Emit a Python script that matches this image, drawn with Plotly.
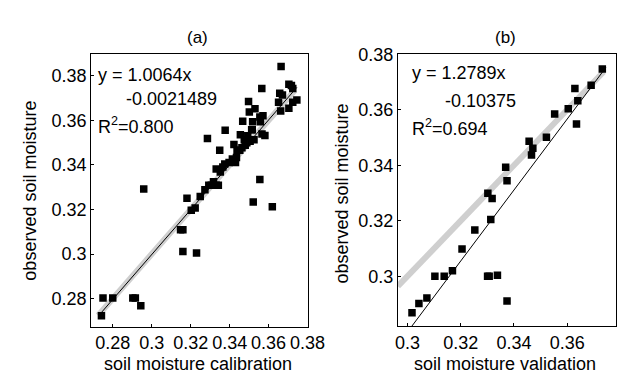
import numpy as np
import plotly.graph_objects as go

# calibration data (panel a)
cal_x = [0.2742, 0.2750, 0.2800, 0.2903, 0.2916, 0.2944, 0.2959, 0.3148, 0.3160, 0.3160,
         0.3181, 0.3203, 0.3223, 0.3230, 0.3249, 0.3273, 0.3286, 0.3293, 0.3306, 0.3317,
         0.3331, 0.3342, 0.3331, 0.3349, 0.3352, 0.3365, 0.3375, 0.3377, 0.3397, 0.3414,
         0.3422, 0.3430, 0.3435, 0.3438, 0.3452, 0.3455, 0.3467, 0.3463, 0.3475, 0.3480,
         0.3488, 0.3493, 0.3497, 0.3501, 0.3505, 0.3513, 0.3518, 0.3525, 0.3530, 0.3521,
         0.3516, 0.3555, 0.3555, 0.3558, 0.3565, 0.3566, 0.3581, 0.3571, 0.3619, 0.3651,
         0.3657, 0.3664, 0.3662, 0.3671, 0.3704, 0.3704, 0.3717, 0.3724, 0.3724, 0.3745]
cal_y = [0.2723, 0.2803, 0.2803, 0.2803, 0.2803, 0.2768, 0.3292, 0.3109, 0.3109, 0.3011,
         0.3250, 0.3196, 0.3206, 0.3005, 0.3258, 0.3288, 0.3518, 0.3309, 0.3309, 0.3324,
         0.3309, 0.3309, 0.3382, 0.3465, 0.3368, 0.3390, 0.3404, 0.3555, 0.3411, 0.3426,
         0.3491, 0.3411, 0.3433, 0.3465, 0.3465, 0.3535, 0.3596, 0.3477, 0.3513, 0.3488,
         0.3499, 0.3531, 0.3684, 0.3637, 0.3506, 0.3557, 0.3593, 0.3513, 0.3652, 0.3234,
         0.3557, 0.3334, 0.3615, 0.3593, 0.3742, 0.3538, 0.3532, 0.3620, 0.3212, 0.3681,
         0.3721, 0.3841, 0.3641, 0.3713, 0.3654, 0.3761, 0.3756, 0.3742, 0.3681, 0.3691]

# validation data (panel b)
val_x = [0.3017, 0.3043, 0.3073, 0.3103, 0.3138, 0.3169, 0.3205, 0.3253, 0.3302, 0.3318,
         0.3313, 0.3301, 0.3307, 0.3338, 0.3374, 0.3369, 0.3374, 0.3457, 0.3466, 0.3471,
         0.3522, 0.3553, 0.3604, 0.3629, 0.3635, 0.3640, 0.3690, 0.3732]
val_y = [0.2869, 0.2902, 0.2922, 0.3000, 0.3000, 0.3020, 0.3098, 0.3167, 0.3299, 0.3280,
         0.3205, 0.3000, 0.3000, 0.3004, 0.2911, 0.3393, 0.3344, 0.3487, 0.3437, 0.3461,
         0.3501, 0.3585, 0.3604, 0.3677, 0.3549, 0.3633, 0.3688, 0.3747]

# fits: slope, intercept, x extent
cal_fit = [1.0064, -0.0021489]
val_fit = [1.2789, -0.10375]
cal_fit_x = [0.2742, 0.3745]
val_fit_x = [0.3016, 0.3745]
cal_one_x = [0.2725, 0.3735]
val_one_x = [0.2964, 0.3737]

cal_eq = ["y = 1.0064x", "-0.0021489", "R<sup>2</sup>=0.800"]
val_eq = ["y = 1.2789x", "-0.10375", "R<sup>2</sup>=0.694"]

font = "Liberation Sans, Arial, sans-serif"
W, H = 643, 374
fig = go.Figure()


def add_panel(xs, ys, fit, fit_x, one_x, xa, ya):
    one_x = np.array(one_x)
    fx = np.array(fit_x)
    fig.add_trace(go.Scatter(x=one_x, y=one_x, mode="lines",
                             line=dict(color="#cfcfcf", width=6),
                             xaxis=xa, yaxis=ya, showlegend=False, hoverinfo="skip"))
    fig.add_trace(go.Scatter(x=fx, y=fit[0] * fx + fit[1], mode="lines",
                             line=dict(color="black", width=1),
                             xaxis=xa, yaxis=ya, showlegend=False, hoverinfo="skip"))
    fig.add_trace(go.Scatter(x=xs, y=ys, mode="markers",
                             marker=dict(symbol="square", size=7.5, color="black"),
                             xaxis=xa, yaxis=ya, showlegend=False))


add_panel(cal_x, cal_y, cal_fit, cal_fit_x, cal_one_x, "x", "y")
add_panel(val_x, val_y, val_fit, val_fit_x, val_one_x, "x2", "y2")

axis_style = dict(showline=True, linecolor="black", linewidth=1, mirror=True,
                  ticks="inside", ticklen=3, tickcolor="black",
                  showgrid=False, zeroline=False,
                  tickfont=dict(family=font, size=18, color="black"))

fig.update_layout(
    width=W, height=H,
    margin=dict(l=0, r=0, t=0, b=0),
    plot_bgcolor="white", paper_bgcolor="white",
    font=dict(family=font, color="black"),
    xaxis=dict(domain=[0.1286, 0.477], range=[0.2689, 0.3803], dtick=0.02, tick0=0.28,
               anchor="y", **axis_style),
    yaxis=dict(domain=[0.1524, 0.901], range=[0.2675, 0.3897], dtick=0.02, tick0=0.28,
               anchor="x", **axis_style),
    xaxis2=dict(domain=[0.621, 0.9705], range=[0.2964, 0.3782], dtick=0.02, tick0=0.3,
                anchor="y2", **axis_style),
    yaxis2=dict(domain=[0.1532, 0.9003], range=[0.282, 0.38], dtick=0.02, tick0=0.3,
                anchor="x2", **axis_style),
)


def note(txt, px, py, size=18, xanchor="center", angle=0):
    fig.add_annotation(text=txt, x=px / W, y=1 - py / H, xref="paper", yref="paper",
                       xanchor=xanchor, yanchor="middle", showarrow=False,
                       textangle=angle, font=dict(size=size))


# panel titles
note("(a)", 192, 20, size=17)
note("(b)", 510, 20, size=17)

# axis titles
note("soil moisture calibration", 193, 355)
note("soil moisture validation", 510, 355)
note("observed soil moisture", 20, 177, angle=-90)
note("observed soil moisture", 342, 180, angle=-90)

# equations
for txt, px, py in zip(cal_eq, [88, 117, 88], [59, 83, 110]):
    note(txt, px, py, xanchor="left")
for txt, px, py in zip(val_eq, [412, 446, 412], [57, 85, 113]):
    note(txt, px, py, xanchor="left")

fig.write_html("out.html")
